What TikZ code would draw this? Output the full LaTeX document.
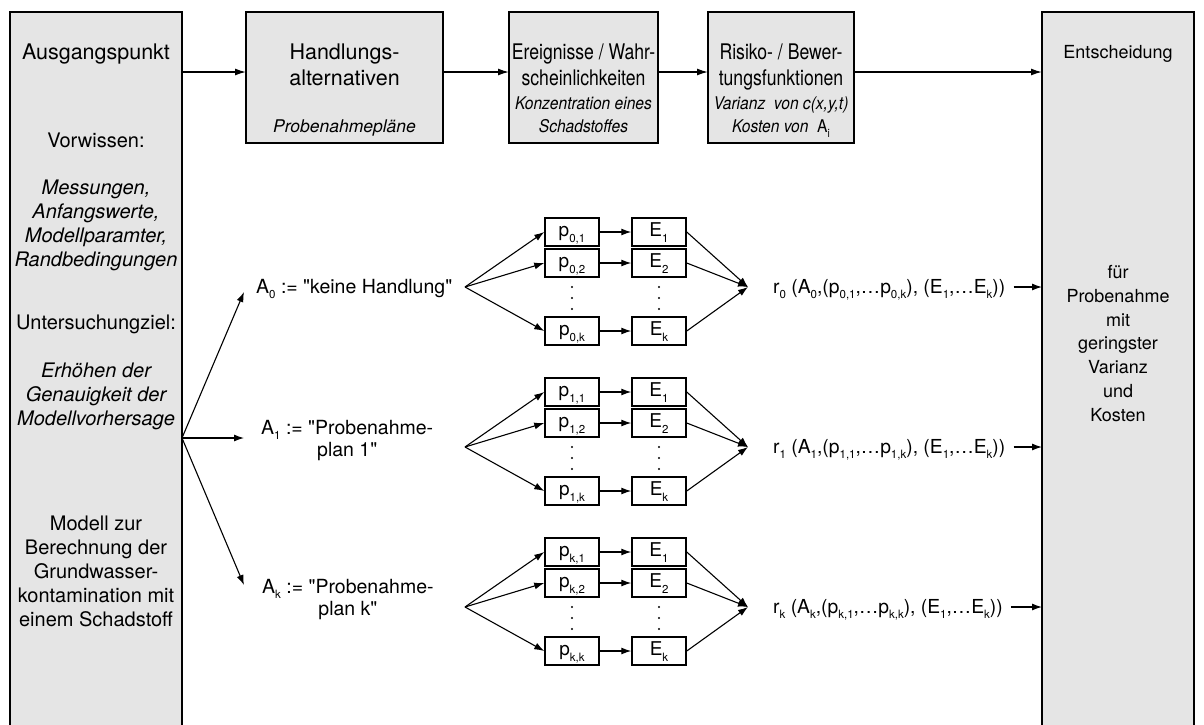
\documentclass[tikz,border=0pt]{standalone}
\usepackage{fontspec}
\setmainfont{TeX Gyre Heros}[Ligatures=TeXOff]
\newfontfamily\titlenarrow[FakeStretch=0.82]{TeX Gyre Heros}
\newfontfamily\notenarrow[FakeStretch=0.89]{TeX Gyre Heros}
\usetikzlibrary{arrows.meta,calc}
\newcommand{\fs}[2]{\fontsize{#1}{#2}\selectfont}
\newcommand{\sbs}[1]{\raisebox{-0.3em}{\fontsize{11.5}{11.5}\selectfont #1}}
\definecolor{boxgray}{RGB}{229,229,229}

\begin{document}
\begin{tikzpicture}[x=1pt,y=-1pt,
  box/.style={draw, line width=1.8pt, fill=boxgray, inner sep=0pt, outer sep=0pt, anchor=north west},
  title/.style={font=\fs{21.5}{26}, align=center, anchor=base, inner sep=0pt},
  note/.style={font=\fs{17.5}{23}\itshape, align=center, anchor=base, inner sep=0pt},
  side/.style={font=\fs{20}{24}, align=center, anchor=base, inner sep=0pt},
  sideit/.style={font=\fs{20}{24}\itshape, align=center, anchor=base, inner sep=0pt},
  choice/.style={font=\fs{19.5}{22}, align=center, anchor=base west, inner sep=0pt},
  cell/.style={draw, line width=1.5pt, fill=white, minimum width=54pt, minimum height=28pt,
    inner sep=0pt, text height=13pt, text depth=4pt, font=\fs{19}{22}},
  riskterm/.style={font=\fs{19.3}{22}, anchor=base west, inner xsep=8pt, inner ysep=0pt},
  arr/.style={-{Latex[length=10pt,width=7pt]}, line width=1.1pt},
  toparr/.style={-{Latex[length=11pt,width=7pt]}, line width=1.4pt},
]
\useasboundingbox (0,0) rectangle (1204,724);
\clip (0,0) rectangle (1204,724);

% frame boxes
\node[box, minimum width=172pt, minimum height=730pt] (ausg) at (10,12) {};
\node[box, minimum width=197pt, minimum height=131pt] (hand) at (246,12) {};
\node[box, minimum width=149pt, minimum height=131pt] (ereig) at (509,12) {};
\node[box, minimum width=146pt, minimum height=131pt] (bew) at (708,12) {};
\node[box, minimum width=152pt, minimum height=730pt] (ent) at (1042,12) {};

% top chain
\coordinate (rowtop) at (0,72);
\draw[toparr] (ausg.east |- rowtop) -- (hand.west |- rowtop);
\draw[toparr] (hand.east |- rowtop) -- (ereig.west |- rowtop);
\draw[toparr] (ereig.east |- rowtop) -- (bew.west |- rowtop);
\draw[toparr] (bew.east |- rowtop) -- (ent.west |- rowtop);

% left column (multi-line nodes are placed by the baseline of their last line)
\node[title] (ausgT) at (96,59) {Ausgangspunkt};
\node[side] (vorw) at (96,147) {Vorwissen:};
\node[sideit] (mess) at (96,266) {Messungen,\\Anfangswerte,\\Modellparamter,\\Randbedingungen};
\node[side] (ziel) at (96,329) {Untersuchungziel:};
\node[sideit] (erh) at (96,425) {Erhöhen der\\Genauigkeit der\\Modellvorhersage};
\node[side] (mod) at (96,626) {Modell zur\\Berechnung der\\Grundwasser-\\kontamination mit\\einem Schadstoff};

% top boxes
\node[title] (handT) at (344.5,85) {Handlungs-\\alternativen};
\node[note] (handN) at (344.5,132) {Probenahmepläne};
\node[title, font=\fs{21.5}{26}\titlenarrow] (ereigT) at (583.5,85) {Ereignisse / Wahr-\\scheinlichkeiten};
\node[note, font=\fs{17.5}{23}\notenarrow\itshape] (ereigN) at (583.5,132) {Konzentration eines\\Schadstoffes};
\node[title, font=\fs{21.5}{26}\titlenarrow] (bewT) at (781,85) {Risiko- / Bewer-\\tungsfunktionen};
\node[note, font=\fs{17.5}{23}\notenarrow\itshape] (bewN) at (781,132) {Varianz\ \ von c(x,y,t)\\Kosten von\ \ {\upshape A\sbs{i}}};

% right column
\node[side, font=\fs{18}{23.7}] (entT) at (1118,58) {Entscheidung};
\node[side, font=\fs{18}{23.7}] (entN) at (1118,421) {für\\Probenahme\\mit\\geringster\\Varianz\\und\\Kosten};

% alternatives
\node[choice] (A0) at (256,293) {A\sbs{0} := "keine Handlung"};
\node[choice] (A1) at (261,456) {A\sbs{1} := "Probenahme-\\plan 1"};
\node[choice] (Ak) at (262,615) {A\sbs{k} := "Probenahme-\\plan k"};

\coordinate (lvl) at (0,438);
\draw[arr] (ausg.east |- lvl) -- ([xshift=-12pt,yshift=1pt]A0.base west);
\draw[arr] (ausg.east |- lvl) -- ([xshift=-17pt,yshift=18pt]A1.base west);
\draw[arr] (ausg.east |- lvl) -- ([xshift=-18pt,yshift=30pt]Ak.base west);

% probability / event chains
\foreach \g/\b in {0/232, 1/392, k/552} {
  \node[cell] (p\g a) at (572,\b) {p\sbs{\g,1}};
  \node[cell] (p\g b) at (572,\b+31) {p\sbs{\g,2}};
  \node[cell] (p\g k) at (572,\b+99) {p\sbs{\g,k}};
  \node[cell] (e\g a) at (659,\b) {E\sbs{1}};
  \node[cell] (e\g b) at (659,\b+31) {E\sbs{2}};
  \node[cell] (e\g k) at (659,\b+99) {E\sbs{k}};
  \foreach \yy in {55,66,77} {
    \fill (572,\b+\yy) circle (1.1pt);
    \fill (659,\b+\yy) circle (1.1pt);
  }
  \coordinate (fan\g) at (465,\b+55);
  \coordinate (join\g) at (748,\b+55);
  \foreach \r in {a,b,k} {
    \draw[arr] (fan\g) -- (p\g\r.west);
    \draw[arr] (p\g\r.east) -- (e\g\r.west);
    \draw[arr] (e\g\r.east) -- (join\g);
  }
  \node[riskterm] (r\g) at (765,\b+61)
    {r\sbs{\g} (A\sbs{\g},(p\sbs{\g,1},\ldots p\sbs{\g,k}), (E\sbs{1},\ldots E\sbs{k}))};
  \draw[arr] (r\g.east |- join\g) -- (ent.west |- join\g);
}
\end{tikzpicture}
\end{document}
